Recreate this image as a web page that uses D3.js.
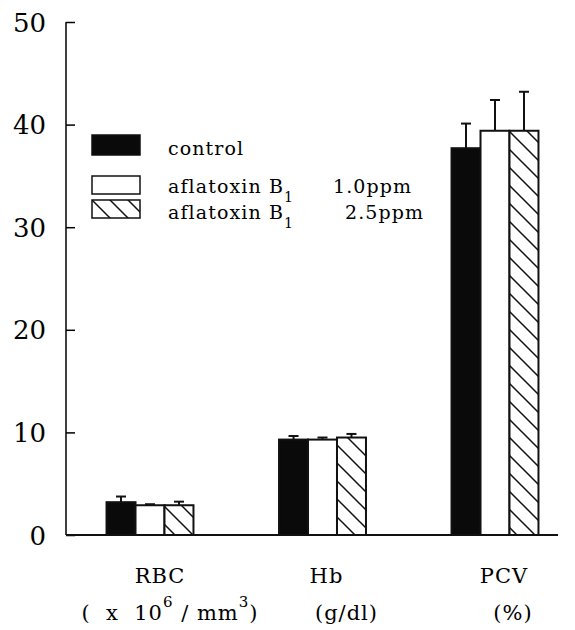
<!DOCTYPE html>
<html lang="en">
<head>
<meta charset="UTF-8">
<title>Hematology</title>
<script src="https://d3js.org/d3.v7.min.js"></script>
<style>
  body { margin: 0; background: #fff; }
  svg { font-family: "DejaVu Serif", "Liberation Serif", serif; }
</style>
</head>
<body>
<div id="chart"></div>
<script>
// data
var groups = ["RBC", "Hb", "PCV"];
var groupUnits = ["(\u00a0\u00a0x\u00a0\u00a010|6|\u00a0/\u00a0mm|3|)", "(g/dl)", "(%)"];
var series = ["control", "1.0ppm", "2.5ppm"];
var control = [3.2, 9.3, 37.7];
var controlErr = [0.55, 0.35, 2.4];
var low = [2.9, 9.3, 39.4];
var lowErr = [0.1, 0.2, 3.0];
var high = [2.9, 9.5, 39.4];
var highErr = [0.35, 0.35, 3.8];
var yTicks = [0, 10, 20, 30, 40, 50];

var values = [control, low, high];
var errs = [controlErr, lowErr, highErr];

var W = 575, H = 630;
var svg = d3.select("#chart").append("svg").attr("width", W).attr("height", H);

var defs = svg.append("defs");
var pat = defs.append("pattern").attr("id", "hatch")
  .attr("patternUnits", "userSpaceOnUse").attr("width", 18).attr("height", 18);
pat.append("rect").attr("width", 18).attr("height", 18).attr("fill", "#fff");
pat.append("path").attr("d", "M-4.5,-4.5 L22.5,22.5 M-4.5,13.5 L4.5,22.5 M13.5,-4.5 L22.5,4.5")
  .attr("stroke", "#111").attr("stroke-width", 1.5);

var fills = ["#0a0a0a", "#fff", "url(#hatch)"];

var y = d3.scaleLinear().domain([0, 50]).range([535, 22]);
var x0 = d3.scaleBand().domain(groups).range([63.75, 581.25]).paddingInner(0.496).paddingOuter(0.248);
var x1 = d3.scaleBand().domain(series).range([0, x0.bandwidth()]);

// y axis, ticks pointing inward
var yAxis = svg.append("g").attr("transform", "translate(66,0)")
  .call(d3.axisRight(y).tickValues(yTicks).tickSize(9).tickFormat(""));
yAxis.select(".domain").attr("d", "M0," + y(50) + "V" + y(0)).attr("stroke-width", 1.5);
yAxis.selectAll(".tick line").attr("stroke-width", 1.5);

svg.append("g").selectAll("text").data(yTicks).join("text")
  .attr("x", 46).attr("y", function (d) { return y(d) + 9.5; })
  .attr("text-anchor", "end").attr("font-size", 26)
  .text(function (d) { return d; });

// x baseline
svg.append("line").attr("x1", 66).attr("x2", 558).attr("y1", y(0)).attr("y2", y(0))
  .attr("stroke", "#111").attr("stroke-width", 2);

// bars
series.forEach(function (s, si) {
  var g = svg.append("g");
  g.selectAll("rect").data(groups).join("rect")
    .attr("x", function (d) { return x0(d) + x1(s); })
    .attr("y", function (d, i) { return y(values[si][i]); })
    .attr("width", x1.bandwidth())
    .attr("height", function (d, i) { return y(0) - y(values[si][i]); })
    .attr("fill", fills[si]).attr("stroke", "#111").attr("stroke-width", 2);
  // error bars
  groups.forEach(function (d, i) {
    var cx = x0(d) + x1(s) + x1.bandwidth() / 2;
    var top = y(values[si][i] + errs[si][i]);
    g.append("line").attr("x1", cx).attr("x2", cx)
      .attr("y1", y(values[si][i])).attr("y2", top)
      .attr("stroke", "#111").attr("stroke-width", 2);
    g.append("line").attr("x1", cx - 5).attr("x2", cx + 5)
      .attr("y1", top).attr("y2", top)
      .attr("stroke", "#111").attr("stroke-width", 2);
  });
});

// x labels
var lab = svg.append("g").attr("font-size", 21).attr("letter-spacing", 1);
lab.selectAll("text.name").data(groups).join("text").attr("class", "name")
  .attr("x", function (d, i) { return x0(d) + x0.bandwidth() / 2 + [10, 4, 9][i]; })
  .attr("y", 583).attr("text-anchor", "middle").text(function (d) { return d; });

// unit lines (with superscripts)
groupUnits.forEach(function (u, i) {
  var parts = u.split("|");
  var t = lab.append("text")
    .attr("x", x0(groups[i]) + x0.bandwidth() / 2 + [20, 24, 18][i])
    .attr("y", 620).attr("text-anchor", "middle");
  parts.forEach(function (p, k) {
    var ts = t.append("tspan").text(p);
    if (k % 2) ts.attr("font-size", 15).attr("dy", -13);
    else if (k > 0) ts.attr("dy", 13);
  });
});

// legend
var legLabels = [["control"], ["aflatoxin B", "1", "1.0ppm"], ["aflatoxin B", "1", "2.5ppm"]];
var ppmX = [0, 333, 345];
var legY = [135, 176, 200];
var leg = svg.append("g").attr("font-size", 19).attr("letter-spacing", 1.1);
series.forEach(function (s, si) {
  leg.append("rect").attr("x", 92).attr("y", legY[si]).attr("width", 48)
    .attr("height", si === 0 ? 20 : 18)
    .attr("fill", fills[si]).attr("stroke", "#111").attr("stroke-width", 1.5);
  var t = leg.append("text").attr("x", 168).attr("y", [155, 193, 219][si]);
  legLabels[si].forEach(function (p, k) {
    var ts = t.append("tspan").text(p);
    if (k === 1) ts.attr("font-size", 14).attr("dy", 9);
    if (k === 2) ts.attr("dy", -9).attr("x", ppmX[si]);
  });
});
</script>
</body>
</html>
